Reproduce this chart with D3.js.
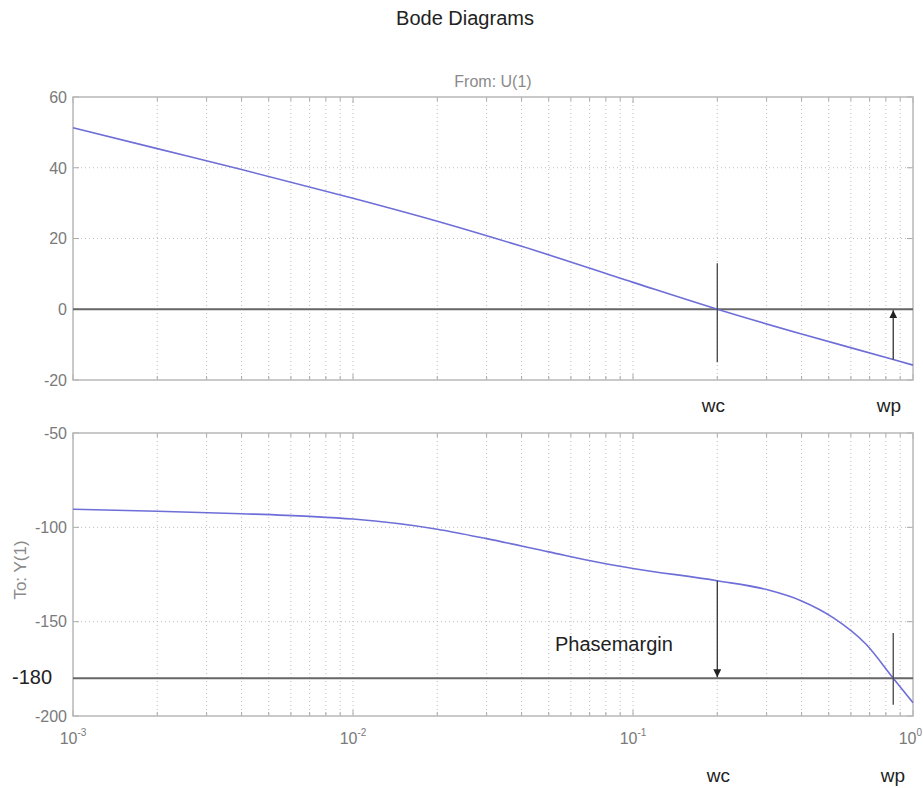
<!DOCTYPE html>
<html>
<head>
<meta charset="utf-8">
<script src="https://cdn.jsdelivr.net/npm/d3@7/dist/d3.min.js"></script>
<style>
  html, body { margin: 0; padding: 0; background: #fff; }
  svg { display: block; font-family: "Liberation Sans", Arial, sans-serif; }
</style>
</head>
<body>
<svg id="chart" width="923" height="788"></svg>
<script>
// ---- data ----
const freqMag = [0.001, 0.002, 0.004, 0.01, 0.02, 0.04, 0.1, 0.2, 0.4, 0.85, 1];
const magDb   = [51.3, 45.4, 39.5, 31.4, 24.9, 17.8, 7.6, 0, -7.0, -14.2, -15.8];

const freqPhase = [0.001, 0.002, 0.004, 0.007, 0.01, 0.02, 0.03, 0.05, 0.075, 0.1, 0.2, 0.3, 0.4, 0.52, 0.68, 0.85, 1];
const phaseDeg  = [-90.4, -91.5, -92.8, -94.2, -95.6, -101, -106, -113, -118.5, -121.8, -128.3, -133, -139, -148, -162, -180, -193];

const magTicks = [-20, 0, 20, 40, 60];
const phaseTicks = [-200, -150, -100, -50];
const decadeTicks = [1e-3, 1e-2, 1e-1, 1];
const decadeExponents = ["-3", "-2", "-1", "0"];

const wc = 0.2;
const wp = 0.85;
const wcMagSpan = [13, -15];
const wpPhaseSpan = [-156, -194];
const phaseRef = -180;
const magRef = 0;

// ---- layout ----
const svg = d3.select("#chart");
const left = 73, right = 913;
const x = d3.scaleLog().domain([1e-3, 1]).range([left, right]);
const yMag = d3.scaleLinear().domain([-20, 60]).range([380, 97]);
const yPh = d3.scaleLinear().domain([-200, -50]).range([716, 433]);

const minorTicks = [];
for (let e = -3; e < 0; e++) {
  for (let m = 1; m <= 9; m++) minorTicks.push(m * Math.pow(10, e));
}
minorTicks.push(1);

const defs = svg.append("defs");
defs.append("marker").attr("id", "arrow")
  .attr("viewBox", "0 0 10 10").attr("refX", 10).attr("refY", 5)
  .attr("markerWidth", 8).attr("markerHeight", 8).attr("markerUnits", "userSpaceOnUse")
  .attr("orient", "auto")
  .append("path").attr("d", "M0,0 L10,5 L0,10 Z").attr("fill", "#222");

function panel(y, ticks) {
  const g = svg.append("g");
  const [yb, yt] = y.range();
  g.append("rect").attr("x", left).attr("y", yt).attr("width", right - left).attr("height", yb - yt)
    .attr("fill", "#fff");
  g.selectAll(".vg").data(minorTicks.filter(d => d > 1e-3 && d < 1)).enter().append("line")
    .attr("x1", d => x(d)).attr("x2", d => x(d)).attr("y1", yt).attr("y2", yb)
    .attr("stroke", "#bdbdbd").attr("stroke-width", 1).attr("stroke-dasharray", "1,3");
  g.selectAll(".hg").data(ticks.slice(1, -1)).enter().append("line")
    .attr("x1", left).attr("x2", right).attr("y1", d => y(d)).attr("y2", d => y(d))
    .attr("stroke", "#bdbdbd").attr("stroke-width", 1).attr("stroke-dasharray", "1,3");
  minorTicks.forEach(d => {
    const len = decadeTicks.includes(d) ? 6 : 4;
    g.append("line").attr("x1", x(d)).attr("x2", x(d)).attr("y1", yb).attr("y2", yb - len)
      .attr("stroke", "#aaa");
    g.append("line").attr("x1", x(d)).attr("x2", x(d)).attr("y1", yt).attr("y2", yt + len)
      .attr("stroke", "#aaa");
  });
  ticks.forEach(d => {
    g.append("line").attr("x1", left).attr("x2", left + 6).attr("y1", y(d)).attr("y2", y(d)).attr("stroke", "#aaa");
    g.append("line").attr("x1", right).attr("x2", right - 6).attr("y1", y(d)).attr("y2", y(d)).attr("stroke", "#aaa");
  });
  g.append("rect").attr("x", left).attr("y", yt).attr("width", right - left).attr("height", yb - yt)
    .attr("fill", "none").attr("stroke", "#b8b8b8").attr("stroke-width", 1.5);
  g.selectAll(".yl").data(ticks).enter().append("text")
    .attr("x", left - 6).attr("y", d => y(d)).attr("dy", "0.36em")
    .attr("text-anchor", "end").attr("font-size", 16).attr("fill", "#7a7a7a")
    .text(d => d);
  return g;
}

const gMag = panel(yMag, magTicks);
const gPh = panel(yPh, phaseTicks);

// reference lines
gMag.append("line").attr("x1", left).attr("x2", right).attr("y1", yMag(magRef)).attr("y2", yMag(magRef))
  .attr("stroke", "#666").attr("stroke-width", 2);
gPh.append("line").attr("x1", left).attr("x2", right).attr("y1", yPh(phaseRef)).attr("y2", yPh(phaseRef))
  .attr("stroke", "#666").attr("stroke-width", 2);

// curves
const magLine = d3.line().x((d, i) => x(freqMag[i])).y(d => yMag(d)).curve(d3.curveMonotoneX);
gMag.append("path").attr("d", magLine(magDb)).attr("fill", "none")
  .attr("stroke", "#6e6ed8").attr("stroke-width", 1.6);
const phLine = d3.line().x((d, i) => x(freqPhase[i])).y(d => yPh(d)).curve(d3.curveMonotoneX);
gPh.append("path").attr("d", phLine(phaseDeg)).attr("fill", "none")
  .attr("stroke", "#6e6ed8").attr("stroke-width", 1.6);

// annotations (top)
gMag.append("line").attr("x1", x(wc)).attr("x2", x(wc)).attr("y1", yMag(wcMagSpan[0])).attr("y2", yMag(wcMagSpan[1]))
  .attr("stroke", "#444").attr("stroke-width", 1.3);
const magAtWp = magDb[freqMag.indexOf(wp)];
gMag.append("line").attr("x1", x(wp)).attr("x2", x(wp)).attr("y1", yMag(magAtWp)).attr("y2", yMag(magRef) + 1)
  .attr("stroke", "#333").attr("stroke-width", 1.3).attr("marker-end", "url(#arrow)");

// annotations (bottom)
const phAtWc = phaseDeg[freqPhase.indexOf(wc)];
gPh.append("line").attr("x1", x(wc)).attr("x2", x(wc)).attr("y1", yPh(phAtWc)).attr("y2", yPh(phaseRef) - 1)
  .attr("stroke", "#333").attr("stroke-width", 1.3).attr("marker-end", "url(#arrow)");
gPh.append("line").attr("x1", x(wp)).attr("x2", x(wp)).attr("y1", yPh(wpPhaseSpan[0])).attr("y2", yPh(wpPhaseSpan[1]))
  .attr("stroke", "#444").attr("stroke-width", 1.3);

// x tick labels (bottom)
decadeTicks.forEach((d, i) => {
  const last = i === decadeTicks.length - 1;
  const t = svg.append("text").attr("x", last ? 922 : x(d)).attr("y", 744)
    .attr("text-anchor", last ? "end" : "middle")
    .attr("font-size", 16).attr("fill", "#7a7a7a");
  t.append("tspan").text("10");
  t.append("tspan").attr("dy", -8).attr("font-size", 10).text(decadeExponents[i]);
});

// texts
svg.append("text").attr("x", 465).attr("y", 25).attr("text-anchor", "middle")
  .attr("font-size", 20).attr("fill", "#222").text("Bode Diagrams");
svg.append("text").attr("x", (left + right) / 2).attr("y", 87).attr("text-anchor", "middle")
  .attr("font-size", 16).attr("fill", "#8a8a8a").text("From: U(1)");
svg.append("text").attr("transform", "translate(26,570) rotate(-90)").attr("text-anchor", "middle")
  .attr("font-size", 17).attr("fill", "#8a8a8a").text("To: Y(1)");
svg.append("text").attr("x", 52).attr("y", 684).attr("text-anchor", "end")
  .attr("font-size", 20).attr("fill", "#222").text("-180");
svg.append("text").attr("x", 555).attr("y", 651).attr("font-size", 20).attr("fill", "#222").text("Phasemargin");

svg.append("text").attr("x", x(wc) - 4).attr("y", 412).attr("text-anchor", "middle")
  .attr("font-size", 19).attr("fill", "#222").text("wc");
svg.append("text").attr("x", 889).attr("y", 412).attr("text-anchor", "middle")
  .attr("font-size", 19).attr("fill", "#222").text("wp");
svg.append("text").attr("x", x(wc) + 1).attr("y", 782).attr("text-anchor", "middle")
  .attr("font-size", 19).attr("fill", "#222").text("wc");
svg.append("text").attr("x", 893).attr("y", 782).attr("text-anchor", "middle")
  .attr("font-size", 19).attr("fill", "#222").text("wp");
</script>
</body>
</html>
